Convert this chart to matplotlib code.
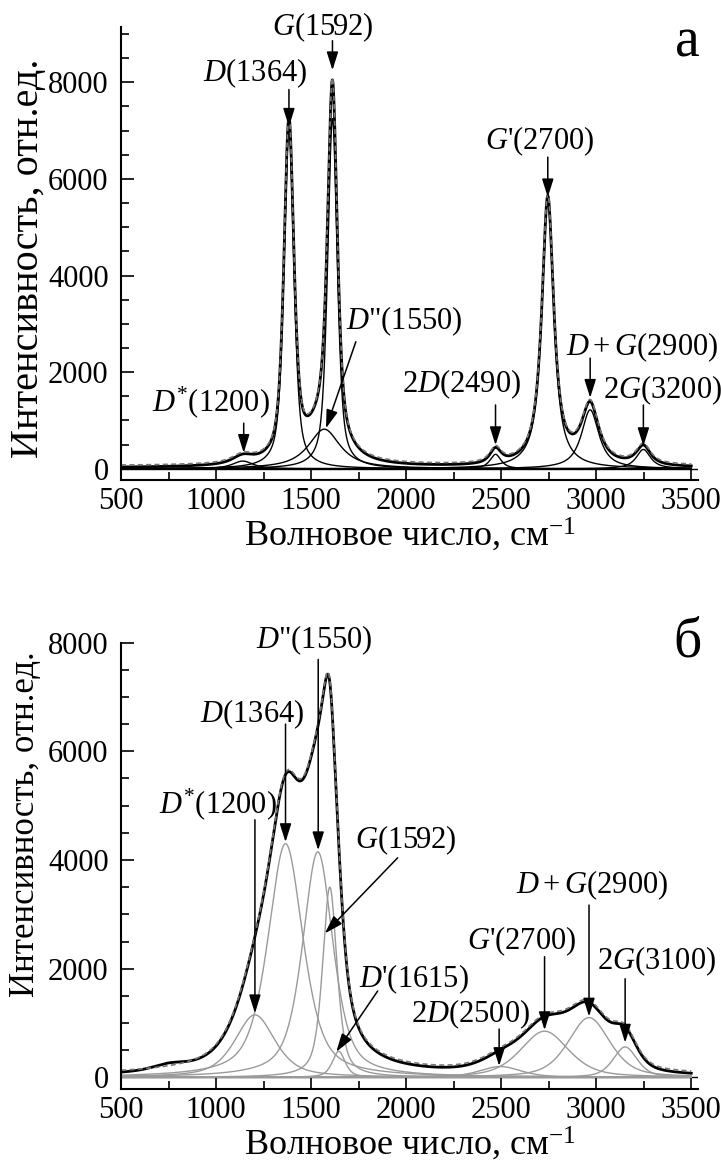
import matplotlib
matplotlib.use("Agg")
import matplotlib.pyplot as plt
from matplotlib.ticker import MultipleLocator
import numpy as np

plt.rcParams['font.family'] = ['Liberation Serif', 'DejaVu Serif']
plt.rcParams['mathtext.fontset'] = 'custom'
plt.rcParams['mathtext.rm'] = 'Liberation Serif'
plt.rcParams['mathtext.it'] = 'Liberation Serif:italic'

# панель а: компоненты (центр, высота, ширина на полувысоте, доля лоренциана)
a_centers = [1140, 1383, 1569, 1612, 2470, 2745, 2968, 3248]
a_heights = [160, 7000, 820, 7250, 300, 5550, 1220, 400]
a_widths = [130, 62, 200, 60, 70, 75, 110, 90]
a_eta = [0.8, 0.6, 0.9, 0.6, 0.8, 0.9, 0.9, 0.9]
a_base = 20

# панель б
b_centers = [1204, 1365, 1535, 1598, 1645, 2495, 2728, 2962, 3152]
b_heights = [1150, 4300, 4150, 3500, 480, 200, 850, 1100, 560]
b_widths = [250, 220, 190, 90, 80, 260, 300, 260, 150]
b_eta = [0.6, 0.6, 0.6, 0.6, 0.6, 0.5, 0.5, 0.5, 0.5]
b_base = 0
# небольшой горб в измеренном спектре (центр, высота, ширина)
b_bump = (750, 90, 200)

# подписи: текст, позиция текста, хвост и кончик стрелки
a_labels = [r'$G$(1592)', r'$D$(1364)', r"$G$'(2700)", r'$D$"(1550)', r'$D^{*}$(1200)',
            r'2$D$(2490)', r'$D+G$(2900)', r'2$G$(3200)']
a_text_xy = [(1560, 9150), (1205, 8190), (2700, 6780), (1990, 3050), (970, 1370),
             (2290, 1760), (3240, 2520), (3350, 1617)]
a_arrow_from = [(1612, 8860), (1383, 7850), (2745, 6450), (1735, 2630), (1145, 945),
                (2470, 1320), (2968, 2290), (3248, 1320)]
a_arrow_to = [(1612, 8250), (1383, 7080), (2745, 5620), (1578, 840), (1145, 330),
              (2470, 490), (2968, 1470), (3248, 470)]

b_labels = [r'$D$"(1550)', r'$D$(1364)', r'$D^{*}$(1200)', r'$G$(1592)', r"$D$'(1615)",
            r'2$D$(2500)', r"$G$'(2700)", r'$D+G$(2900)', r'2$G$(3100)']
b_text_xy = [(1516, 8040), (1190, 6690), (1010, 5020), (2000, 4370), (2040, 1810),
             (2340, 1170), (2610, 2500), (2980, 3540), (3315, 2130)]
b_arrow_from = [(1537, 7690), (1365, 6500), (1204, 4740), (1955, 4040), (1850, 1590),
                (2489, 890), (2728, 2220), (2962, 3170), (3152, 1815)]
b_arrow_to = [(1537, 4180), (1365, 4330), (1204, 1180), (1572, 2650), (1632, 470),
              (2489, 210), (2728, 870), (2962, 1120), (3152, 640)]

x = np.linspace(500, 3500, 3001)


def peak(c, h, w, eta):
    u = (x - c) / (w / 2)
    return h * (eta / (1 + u ** 2) + (1 - eta) * np.exp(-np.log(2) * u ** 2))


def panel(ax, centers, heights, widths, etas, base, comp_color, ymin, ymax, bump=None):
    comps = [peak(c, h, w, e) for c, h, w, e in zip(centers, heights, widths, etas)]
    fit = base + np.sum(comps, axis=0)
    meas = fit.copy()
    if bump is not None:
        meas = meas + peak(bump[0], bump[1], bump[2], 0.5)
    ax.axhline(0, color='k', lw=1)
    for cc in comps:
        ax.plot(x, cc, color=comp_color, lw=1)
    ax.plot(x, meas, color='k', lw=2)
    ax.plot(x, fit + 40, color='#777777', lw=1.2, ls=(0, (3, 2)))
    ax.set_xlim(500, 3535)
    ax.set_ylim(ymin, ymax)
    ax.spines['top'].set_visible(False)
    ax.spines['right'].set_visible(False)
    ax.spines['left'].set_linewidth(1.5)
    ax.spines['bottom'].set_linewidth(1.5)
    ax.xaxis.set_major_locator(MultipleLocator(500))
    ax.xaxis.set_minor_locator(MultipleLocator(250))
    ax.set_yticks([0, 2000, 4000, 6000, 8000])
    ax.yaxis.set_minor_locator(MultipleLocator(500))
    ax.tick_params(which='both', direction='in', labelsize=22, width=1.2)
    ax.tick_params(which='major', length=9)
    ax.tick_params(which='minor', length=6)
    ax.tick_params(axis='x', which='major', pad=5)
    ax.tick_params(axis='y', which='major', pad=9)
    ax.set_xlabel('Волновое число, см$^{-1}$', fontsize=26, labelpad=0)


def notes(ax, labels, txy, afrom, ato):
    for lab, t, f, e in zip(labels, txy, afrom, ato):
        ax.text(t[0], t[1], lab, fontsize=22, ha='center', va='center', clip_on=False)
        ax.annotate('', xy=e, xytext=f,
                    arrowprops=dict(arrowstyle='-|>,head_length=0.7,head_width=0.22',
                                    color='k', lw=1.1, mutation_scale=16,
                                    shrinkA=0, shrinkB=0))


fig = plt.figure(figsize=(7.21, 11.62), dpi=100)
ax1 = fig.add_axes([0.168, 0.587, 0.80, 0.390])
ax2 = fig.add_axes([0.168, 0.063, 0.80, 0.384])

panel(ax1, a_centers, a_heights, a_widths, a_eta, a_base, 'k', -230, 9150)
notes(ax1, a_labels, a_text_xy, a_arrow_from, a_arrow_to)
ax1.set_ylabel('Интенсивность, отн.ед.', fontsize=29)
ax1.yaxis.set_label_coords(-0.128, 0.49)

panel(ax2, b_centers, b_heights, b_widths, b_eta, b_base, '#9a9a9a', -210, 8000, b_bump)
notes(ax2, b_labels, b_text_xy, b_arrow_from, b_arrow_to)
ax2.set_ylabel('Интенсивность, отн.ед.', fontsize=25)
ax2.yaxis.set_label_coords(-0.138, 0.592)

fig.text(0.953, 0.963, 'а', fontsize=40, ha='center', va='center')
fig.text(0.953, 0.447, 'б', fontsize=40, ha='center', va='center')

fig.savefig('out.png', dpi=100)
